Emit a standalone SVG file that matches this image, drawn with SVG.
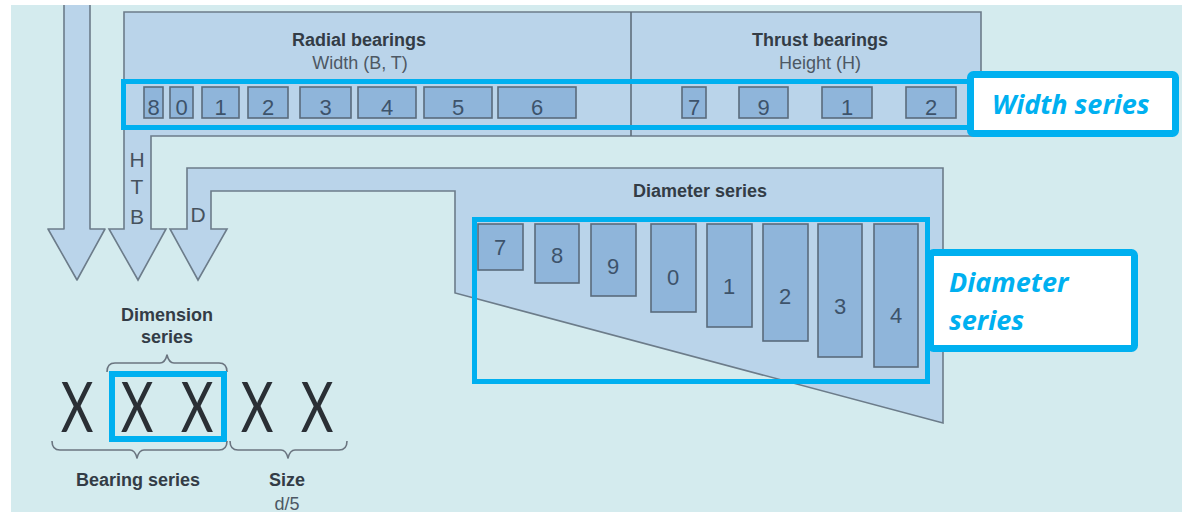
<svg xmlns="http://www.w3.org/2000/svg" width="1182" height="514" viewBox="0 0 1182 514">
<defs>
<style>
.panel{fill:#bad4ea;stroke:#6c7c8a;stroke-width:1.6;stroke-linejoin:miter}
.box{fill:#8fb5da;stroke:#596b7c;stroke-width:1.6}
.num{font-family:"Liberation Sans Narrow","Liberation Sans",Arial,sans-serif;font-size:22px;fill:#3d536b;text-anchor:middle}
.hdr{font-family:"Liberation Sans",Arial,sans-serif;font-size:18px;font-weight:bold;fill:#333c46;text-anchor:middle}
.sub{font-family:"Liberation Sans",Arial,sans-serif;font-size:18px;fill:#4d5864;text-anchor:middle}
.let{font-family:"Liberation Sans",Arial,sans-serif;font-size:21px;fill:#46525e;text-anchor:middle}
.hl{fill:none;stroke:#00b0f0;stroke-width:5}
.call{fill:#ffffff;stroke:#00b0f0;stroke-width:7}
.ctext{font-family:"Open Sans","Noto Sans",sans-serif;font-size:27px;font-weight:bold;font-style:italic;fill:#00b0f0}
.bx{font-family:Lato,"Open Sans",sans-serif;font-weight:normal;font-size:70px;fill:#2a2f35;text-anchor:middle}
.brace{fill:none;stroke:#6b7580;stroke-width:1.6;stroke-linejoin:round}
</style>
</defs>
<rect x="0" y="0" width="1182" height="514" fill="#ffffff"/>
<rect x="11" y="5" width="1171" height="507" fill="#d4ebee"/>

<g id="connectors">
<path d="M64,5 L90,5 L90,229 L105,229 L77,280 L48,229 L64,229 Z" fill="#bad4ea" stroke="none"/>
<path d="M90,5 L90,229 L105,229 L77,280 L48,229 L64,229 L64,5" class="brace" style="stroke:#6c7c8a"/>
</g>

<g id="width-panel">
<path class="panel" d="M124,12 L981,12 L981,136 L151,136 L151,229 L166,229 L138,280 L109,229 L124,229 Z"/>
<line x1="631" y1="12" x2="631" y2="136" stroke="#5f6e7c" stroke-width="1.6"/>
<text class="hdr" x="359" y="46">Radial bearings</text>
<text class="sub" x="360" y="69">Width (B, T)</text>
<text class="hdr" x="820" y="46">Thrust bearings</text>
<text class="sub" x="820" y="69">Height (H)</text>
<text class="let" x="137" y="167">H</text>
<text class="let" x="137" y="194">T</text>
<text class="let" x="137" y="224">B</text>
</g>

<g id="width-boxes">
<rect class="box" x="144" y="87" width="19" height="31"/><text class="num" x="153.5" y="115">8</text>
<rect class="box" x="170" y="87" width="23" height="31"/><text class="num" x="181.5" y="115">0</text>
<rect class="box" x="202" y="87" width="37" height="31"/><text class="num" x="220.5" y="115">1</text>
<rect class="box" x="248" y="87" width="40" height="31"/><text class="num" x="268" y="115">2</text>
<rect class="box" x="300" y="87" width="51" height="31"/><text class="num" x="325.5" y="115">3</text>
<rect class="box" x="358" y="87" width="58" height="31"/><text class="num" x="387" y="115">4</text>
<rect class="box" x="424" y="87" width="68" height="31"/><text class="num" x="458" y="115">5</text>
<rect class="box" x="498" y="87" width="78" height="31"/><text class="num" x="537" y="115">6</text>
<rect class="box" x="682" y="87" width="24" height="31"/><text class="num" x="694" y="115">7</text>
<rect class="box" x="739" y="87" width="49" height="31"/><text class="num" x="763.5" y="115">9</text>
<rect class="box" x="822" y="87" width="50" height="31"/><text class="num" x="847" y="115">1</text>
<rect class="box" x="906" y="87" width="50" height="31"/><text class="num" x="931" y="115">2</text>
</g>

<g id="diameter-panel">
<path class="panel" d="M943,168 L187,168 L187,229 L170,229 L198,280 L227,229 L211,229 L211,191 L455,191 L455,293 L943,423 Z"/>
<text class="hdr" x="700" y="197">Diameter series</text>
<text class="let" x="198" y="222">D</text>
</g>

<g id="diameter-boxes">
<rect class="box" x="478" y="224" width="45" height="46"/><text class="num" x="500" y="255">7</text>
<rect class="box" x="535" y="224" width="44" height="59"/><text class="num" x="557" y="263">8</text>
<rect class="box" x="591" y="224" width="45" height="72"/><text class="num" x="613" y="274">9</text>
<rect class="box" x="651" y="224" width="45" height="88"/><text class="num" x="673" y="285">0</text>
<rect class="box" x="707" y="224" width="45" height="103"/><text class="num" x="729" y="294">1</text>
<rect class="box" x="763" y="224" width="45" height="117"/><text class="num" x="785" y="304">2</text>
<rect class="box" x="818" y="224" width="44" height="133"/><text class="num" x="840" y="314">3</text>
<rect class="box" x="874" y="224" width="44" height="143"/><text class="num" x="896" y="323">4</text>
</g>

<g id="width-callout">
<rect class="hl" x="123.5" y="81.5" width="847" height="46"/>
<rect class="call" x="970.5" y="74.5" width="205" height="59" rx="3"/>
<text class="ctext" x="992" y="114">Width series</text>
</g>

<g id="diameter-callout">
<rect class="hl" x="474.5" y="219.5" width="453" height="162"/>
<rect class="call" x="930.5" y="252.5" width="204" height="96" rx="3"/>
<text class="ctext" x="949" y="292">Diameter</text>
<text class="ctext" x="949" y="330">series</text>
</g>

<g id="designation">
<text class="hdr" x="167" y="321">Dimension</text>
<text class="hdr" x="167" y="343">series</text>
<path class="brace" d="M107,372 Q107,363 115,363 L160,363 Q165,363 167,355 Q169,363 174,363 L219,363 Q227,363 227,372"/>
<g transform="translate(0,432) scale(0.72,1)">
<text class="bx" x="106.94" y="0">X</text>
<text class="bx" x="190.28" y="0">X</text>
<text class="bx" x="273.61" y="0">X</text>
<text class="bx" x="356.94" y="0">X</text>
<text class="bx" x="440.28" y="0">X</text>
</g>
<rect class="hl" x="112" y="374" width="112" height="65" style="stroke-width:6"/>
<path class="brace" d="M52,441 Q52,450 60,450 L130,450 Q135,450 137,458 Q139,450 144,450 L219,450 Q227,450 227,441"/>
<path class="brace" d="M230,441 Q230,450 238,450 L281,450 Q286,450 288,458 Q290,450 295,450 L339,450 Q347,450 347,441"/>
<text class="hdr" x="138" y="486">Bearing series</text>
<text class="hdr" x="287" y="486">Size</text>
<text class="sub" x="287" y="510">d/5</text>
</g>
</svg>
